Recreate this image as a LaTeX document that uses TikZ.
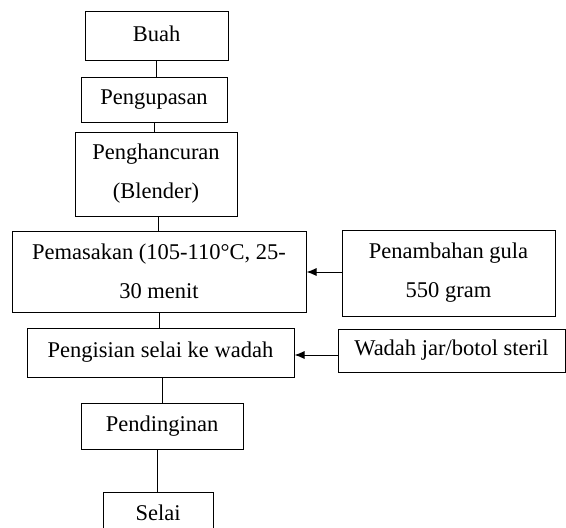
\documentclass[tikz,border=0pt]{standalone}
\usepackage{fontspec}
\setmainfont{Liberation Serif}
\usetikzlibrary{arrows.meta}
\begin{document}
\begin{tikzpicture}[x=1pt,y=-1pt,
  box/.style={draw=black,line width=1pt,inner sep=0pt,align=center,
    font=\fontsize{22.5}{39}\selectfont},
  link/.style={draw=black,line width=1pt},
  feed/.style={draw=black,line width=1pt,-{Latex[length=10pt,width=8pt]}}]
\useasboundingbox (0,0) rectangle (566,528);
\clip (0,0) rectangle (566,528);
\node[box,minimum width=143pt,minimum height=49pt] (buah) at (156.5,35.5) {\raisebox{4pt}{Buah}};
\node[box,minimum width=146pt,minimum height=45pt] (peng) at (154,99.5) {Pengupasan};
\node[box,minimum width=162pt,minimum height=84pt] (hanc) at (156,174) {Penghancuran\\(Blender)};
\node[box,minimum width=294pt,minimum height=81pt] (masak) at (159,271.5) {Pemasakan (105-110°C, 25-\\30 menit};
\node[box,minimum width=213pt,minimum height=86pt] (gula) at (448.5,273) {Penambahan gula\\550 gram};
\node[box,minimum width=267pt,minimum height=49pt] (isi) at (160.5,352.5) {Pengisian selai ke wadah};
\node[box,minimum width=227pt,minimum height=43pt] (wadah) at (451.5,350.5) {Wadah jar/botol steril};
\node[box,minimum width=162pt,minimum height=46pt] (dingin) at (162,426) {Pendinginan};
\node[box,minimum width=110pt,minimum height=44pt] (selai) at (158,514) {\raisebox{2pt}{Selai}};
\draw[link] (buah.south) -- (buah.south |- peng.north);
\draw[link] (peng.south) -- (peng.south |- hanc.north);
\draw[link] ([xshift=2pt]hanc.south) -- ([xshift=2pt]hanc.south |- masak.north);
\draw[link] (masak.south) -- (masak.south |- isi.north);
\draw[link] ([xshift=1.5pt]isi.south) -- ([xshift=1.5pt]isi.south |- dingin.north);
\draw[link] ([xshift=-5pt]dingin.south) -- ([xshift=-5pt]dingin.south |- selai.north);
\draw[feed] ([yshift=1pt]gula.west) -- ([yshift=1pt]gula.west -| masak.east);
\draw[feed] ([yshift=-4.5pt]wadah.west) -- ([yshift=-4.5pt]wadah.west -| isi.east);
\end{tikzpicture}
\end{document}
